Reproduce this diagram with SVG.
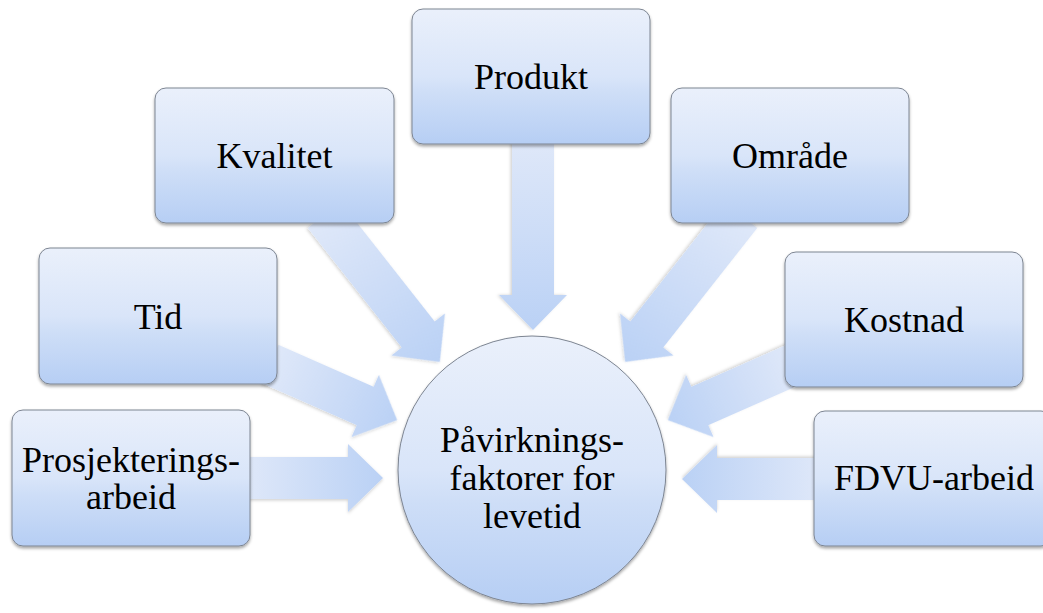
<svg xmlns="http://www.w3.org/2000/svg" width="1043" height="613" viewBox="0 0 1043 613">
  <defs>
    <linearGradient id="nodeFill" x1="0" y1="0" x2="0" y2="1">
      <stop offset="0" stop-color="#eaf0fb"/>
      <stop offset="0.5" stop-color="#d9e5f9"/>
      <stop offset="0.62" stop-color="#cedef7"/>
      <stop offset="1" stop-color="#b6cef4"/>
    </linearGradient>
    <linearGradient id="arrowFill" x1="0" y1="0" x2="1" y2="0">
      <stop offset="0" stop-color="#dfe8f9"/>
      <stop offset="1" stop-color="#bad1f5"/>
    </linearGradient>
    <filter id="shadow" x="-10%" y="-10%" width="120%" height="130%">
      <feDropShadow dx="0" dy="2" stdDeviation="1.5" flood-color="#000" flood-opacity="0.35"/>
    </filter>
    <filter id="ashadow" x="-10%" y="-20%" width="120%" height="140%">
      <feDropShadow dx="0" dy="1.5" stdDeviation="1.5" flood-color="#000" flood-opacity="0.18"/>
    </filter>
    <path id="arrow139" d="M0,-21 L104,-21 L104,-34 L139,0 L104,34 L104,21 L0,21 Z"/>
    <path id="arrow187" d="M0,-21 L152,-21 L152,-34 L187,0 L152,34 L152,21 L0,21 Z"/>
    <path id="arrow190" d="M0,-21 L155,-21 L155,-34 L190,0 L155,34 L155,21 L0,21 Z"/>
  </defs>
  <style>
    .box { fill: url(#nodeFill); stroke: #7d8592; stroke-width: 1; filter: url(#shadow); }
    .arr { fill: url(#arrowFill); filter: url(#ashadow); }
    .lbl { font-family: "Liberation Serif", "Times New Roman", serif; font-size: 36px; fill: #000; text-anchor: middle; }
  </style>
  <rect width="1043" height="613" fill="#ffffff"/>

  <g id="connectors">
    <use href="#arrow190" class="arr" transform="translate(533,140) rotate(90)"/>
    <use href="#arrow187" class="arr" transform="translate(324.2,215) rotate(51.8)"/>
    <use href="#arrow187" class="arr" transform="translate(740.8,215) rotate(128.2)"/>
    <use href="#arrow139" class="arr" transform="translate(270,364) rotate(23.8)"/>
    <use href="#arrow139" class="arr" transform="translate(795,364) rotate(156.2)"/>
    <use href="#arrow139" class="arr" transform="translate(244,478)"/>
    <use href="#arrow139" class="arr" transform="translate(821,479) rotate(180)"/>
  </g>

  <g id="node-center">
    <circle class="box" cx="532" cy="470" r="134"/>
    <text class="lbl" x="532" y="452">Påvirknings-</text>
    <text class="lbl" x="532" y="490">faktorer for</text>
    <text class="lbl" x="532" y="528">levetid</text>
  </g>

  <g id="node-prosjektering">
    <rect class="box" x="12" y="410" width="238" height="136" rx="11"/>
    <text class="lbl" x="131" y="472">Prosjekterings-</text>
    <text class="lbl" x="131" y="509">arbeid</text>
  </g>

  <g id="node-tid">
    <rect class="box" x="39" y="248" width="238" height="136" rx="11"/>
    <text class="lbl" x="158" y="329">Tid</text>
  </g>

  <g id="node-kvalitet">
    <rect class="box" x="155" y="88" width="239" height="135" rx="11"/>
    <text class="lbl" x="274.5" y="168">Kvalitet</text>
  </g>

  <g id="node-produkt">
    <rect class="box" x="412" y="9" width="238" height="135" rx="11"/>
    <text class="lbl" x="531" y="89">Produkt</text>
  </g>

  <g id="node-omraade">
    <rect class="box" x="671" y="88" width="238" height="135" rx="11"/>
    <text class="lbl" x="790" y="168">Område</text>
  </g>

  <g id="node-kostnad">
    <rect class="box" x="785" y="252" width="238" height="135" rx="11"/>
    <text class="lbl" x="904" y="332">Kostnad</text>
  </g>

  <g id="node-fdvu">
    <rect class="box" x="814" y="411" width="238" height="135" rx="11"/>
    <text class="lbl" x="934" y="490">FDVU-arbeid</text>
  </g>
</svg>
